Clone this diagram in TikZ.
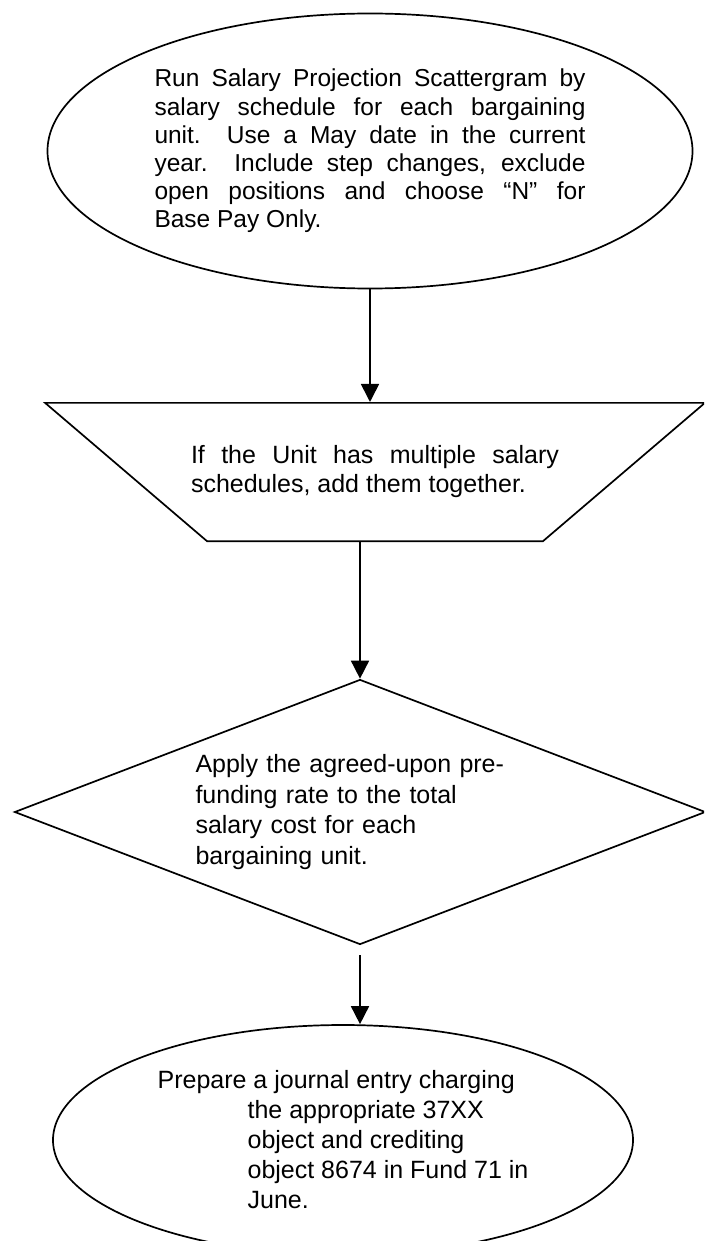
\documentclass[tikz,border=0pt]{standalone}
\usepackage{fontspec}
\setmainfont{Liberation Sans}
\usetikzlibrary{shapes.geometric,arrows.meta}

\begin{document}
\begin{tikzpicture}[x=1pt, y=-1pt, line width=1.7pt,
		flow/.style={-{Triangle[length=18pt, width=18pt]}},
		box/.style={draw, inner sep=0pt, font=\fontsize{25pt}{30pt}\selectfont}]
	% 1. page frame
	\useasboundingbox (0,0) rectangle (704,1241);
	\clip (0,0) rectangle (704,1241);
	
	% 2. the four steps
	\node[box, ellipse, minimum width=645pt, minimum height=275pt, align=left,
		font=\fontsize{24.5pt}{28.2pt}\selectfont] (sched) at (370,151) {%
		\makebox[431pt][s]{Run Salary Projection Scattergram by}\\
		\makebox[431pt][s]{salary schedule for each bargaining}\\
		\makebox[431pt][s]{unit.\ \ Use a May date in the current}\\
		\makebox[431pt][s]{year.\ \ Include step changes, exclude}\\
		\makebox[431pt][s]{open positions and choose “N” for}\\
		Base Pay Only.};
	\node[box, trapezium, shape border rotate=180, trapezium left angle=40.5,
		trapezium right angle=40.5, inner xsep=-16pt, inner ysep=43pt, align=left,
		font=\fontsize{25pt}{29pt}\selectfont] (trap) at (375,472) {%
		\makebox[368pt][s]{If the Unit has multiple salary}\\
		schedules, add them together.};
	\node[box, diamond, aspect=2.6, minimum width=691pt, minimum height=265pt, text width=329pt,
		align=left, font=\fontsize{25pt}{30.5pt}\selectfont] (rate) at (360,812) {%
		Apply the agreed-upon pre-\\
		funding rate to the total\\
		salary cost for each\\
		bargaining unit.};
	\node[box, ellipse, minimum width=580pt, minimum height=230pt, align=left] (entry) at (343,1140) {%
		Prepare a journal entry charging\\
		\hspace*{90pt}the appropriate 37XX\\
		\hspace*{90pt}object and crediting\\
		\hspace*{90pt}object 8674 in Fund 71 in\\
		\hspace*{90pt}June.};
	
	% 3. arrows
	\draw[flow] (sched.south) -- (sched.south |- trap.north);
	\draw[flow] (trap.south -| rate.north) -- (rate.north);
	\draw[flow] ([yshift=-10pt]rate.south) -- (rate.south |- entry.north);
\end{tikzpicture}
\end{document}
